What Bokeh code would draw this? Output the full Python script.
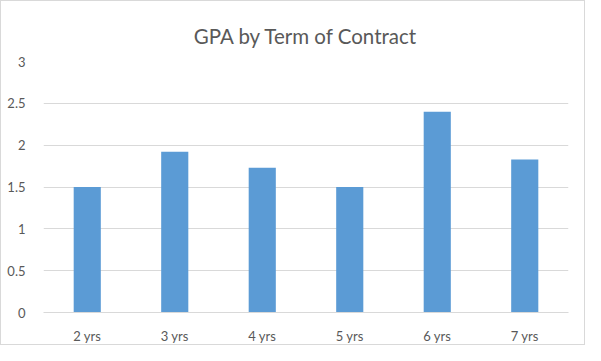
from bokeh.plotting import figure
from bokeh.models import FactorRange, SingleIntervalTicker, Range1d
from bokeh.embed import file_html
from bokeh.resources import INLINE

categories = ["2 yrs", "3 yrs", "4 yrs", "5 yrs", "6 yrs", "7 yrs"]
gpa = [1.5, 1.92, 1.73, 1.5, 2.4, 1.83]

FONT = "Lato"
TXT = "#595959"

p = figure(x_range=FactorRange(*categories, range_padding=0), y_range=Range1d(0, 3),
           width=585, height=345, output_backend="svg", toolbar_location=None,
           title="GPA by Term of Contract")
p.min_border_left = 42
p.min_border_right = 18
p.min_border_top = 60
p.min_border_bottom = 33

p.title.align = "center"
p.title.text_font = FONT
p.title.text_font_size = "20.5px"
p.title.text_font_style = "normal"
p.title.text_color = TXT
p.title.offset = 0
p.title.standoff = 28

p.vbar(x=categories, top=gpa, width=0.31, color="#5B9BD5", line_color=None)

p.outline_line_color = None
p.border_fill_color = "white"
p.background_fill_color = "white"

p.yaxis.ticker = SingleIntervalTicker(interval=0.5)
p.yaxis.axis_line_color = None
p.yaxis.major_tick_line_color = None
p.yaxis.minor_tick_line_color = None
p.yaxis.major_label_text_font = FONT
p.yaxis.major_label_text_font_size = "13px"
p.yaxis.major_label_text_color = TXT
p.yaxis.major_label_standoff = 12

p.xaxis.axis_line_color = "#d9d9d9"
p.xaxis.major_tick_line_color = None
p.xaxis.minor_tick_line_color = None
p.xaxis.major_label_text_font = FONT
p.xaxis.major_label_text_font_size = "13px"
p.xaxis.major_label_text_color = TXT
p.xaxis.major_label_standoff = 9

p.xgrid.grid_line_color = None
p.ygrid.grid_line_color = "#d9d9d9"

p.styles = {"border": "1px solid #d9d9d9"}

open("out.html", "w").write(file_html(p, INLINE))
